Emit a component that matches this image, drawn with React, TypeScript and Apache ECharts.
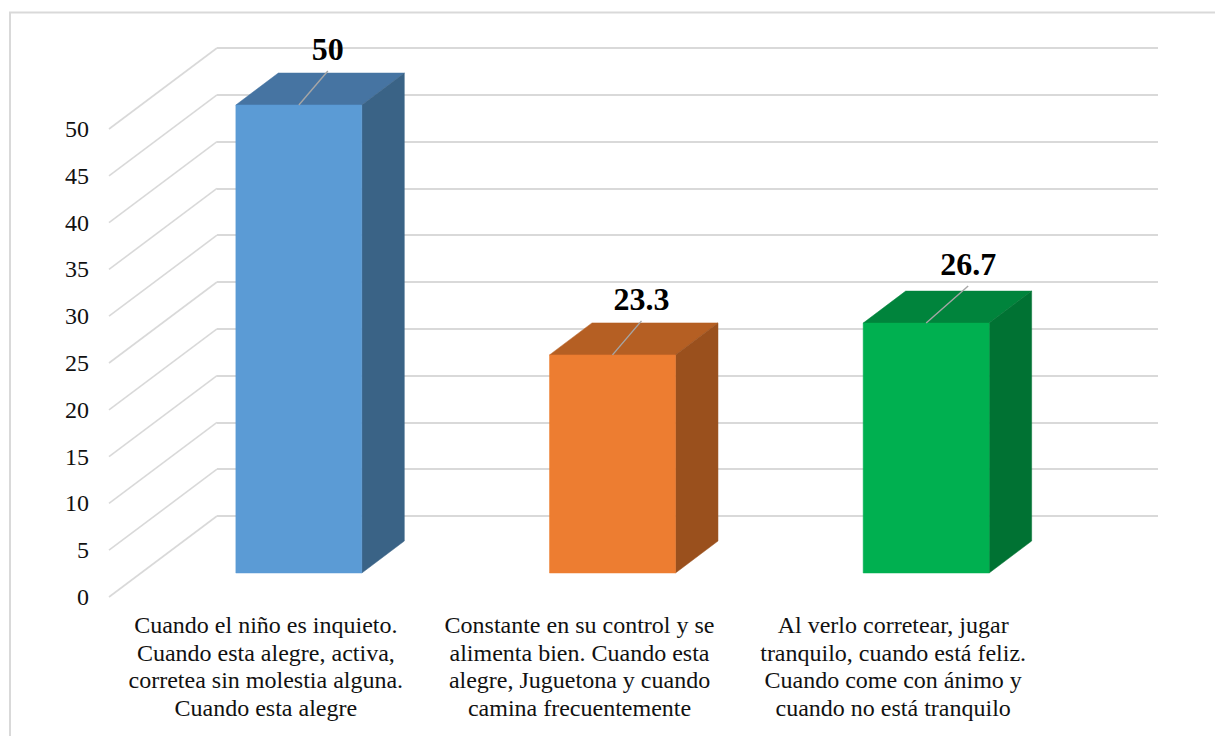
import React, { useEffect, useRef } from "react";
import * as echarts from "echarts";

const categories = [
  "Cuando el niño es inquieto.\nCuando esta alegre, activa,\ncorretea sin molestia alguna.\nCuando esta alegre",
  "Constante en su control y se\nalimenta bien. Cuando esta\nalegre, Juguetona y cuando\ncamina frecuentemente",
  "Al verlo corretear, jugar\ntranquilo, cuando está feliz.\nCuando come con ánimo y\ncuando no está tranquilo",
];
const values = [50, 23.3, 26.7];
const ticks = [0, 5, 10, 15, 20, 25, 30, 35, 40, 45, 50];

const frontColors = ["#5B9BD5", "#ED7D31", "#00B050"];
const topColors = ["#4674A2", "#B55F23", "#00843C"];
const sideColors = ["#3A6386", "#9A501D", "#007233"];

// Where each value label sits relative to the top-front edge centre of its bar.
const labelShift = [
  [29, -34],
  [29, -34],
  [42, -37],
];

const FONT = '"Liberation Serif", "Times New Roman", serif';
const GRID_LINE = "#D9D9D9";
// Full depth of the floor, from the front plane to the back wall.
const DEPTH_X = 108;
const DEPTH_Y = -81;
// Depth of one bar.
const BAR_DX = 42.5;
const BAR_DY = -32;

function renderDiagonal(params: any, api: any) {
  const v = api.value(0);
  const y = api.coord([0, v])[1];
  const x = params.coordSys.x;
  return {
    type: "line",
    shape: { x1: x, y1: y, x2: x + DEPTH_X, y2: y + DEPTH_Y },
    style: { stroke: GRID_LINE, lineWidth: 1.6 },
    silent: true,
  };
}

function renderBar(params: any, api: any) {
  const i = api.value(0);
  const v = api.value(1);
  const [cx, top] = api.coord([i, v]);
  const [, bottom] = api.coord([i, 0]);
  const width = api.size([1, 0])[0] * 0.4016;
  const l = cx - width / 2;
  const r = cx + width / 2;
  const [sx, sy] = labelShift[i];
  const poly = (points: number[][], fill: string) => ({
    type: "polygon",
    shape: { points },
    style: { fill, stroke: fill, lineWidth: 0.5 },
  });
  return {
    type: "group",
    children: [
      poly(
        [
          [l, top],
          [r, top],
          [r + BAR_DX, top + BAR_DY],
          [l + BAR_DX, top + BAR_DY],
        ],
        topColors[i],
      ),
      poly(
        [
          [r, top],
          [r + BAR_DX, top + BAR_DY],
          [r + BAR_DX, bottom + BAR_DY],
          [r, bottom],
        ],
        sideColors[i],
      ),
      poly(
        [
          [l, top],
          [r, top],
          [r, bottom],
          [l, bottom],
        ],
        frontColors[i],
      ),
      {
        type: "line",
        shape: { x1: cx, y1: top, x2: cx + sx, y2: top + sy },
        style: { stroke: "#A6A6A6", lineWidth: 1.4 },
      },
      {
        type: "text",
        x: cx + sx,
        y: top + sy - 22,
        style: {
          text: String(v),
          fill: "#000",
          font: `bold 32px ${FONT}`,
          textAlign: "center",
          textVerticalAlign: "middle",
        },
      },
    ],
  };
}

export default function App() {
  const ref = useRef<HTMLDivElement>(null);

  useEffect(() => {
    const chart = echarts.init(ref.current!, null, { renderer: "svg" });
    chart.setOption({
      animation: false,
      backgroundColor: "#fff",
      graphic: [
        {
          type: "rect",
          z: -10,
          shape: { x: 10, y: 12.5, width: 1230, height: 760 },
          style: { fill: "none", stroke: GRID_LINE, lineWidth: 2 },
        },
      ],
      grid: [
        // front plane: carries the tick and category labels
        { left: 109, width: 941, top: 129, height: 468 },
        // back wall: carries the horizontal gridlines
        { left: 217, width: 941, top: 48, height: 468 },
        // plane in which the bars stand
        { left: 142, width: 941, top: 105, height: 468 },
      ],
      xAxis: [
        {
          gridIndex: 0,
          type: "category",
          data: categories,
          axisLine: { show: false },
          axisTick: { show: false },
          axisLabel: {
            interval: 0,
            margin: 14,
            color: "#111",
            fontFamily: FONT,
            fontSize: 24,
            lineHeight: 27.7,
            align: "center",
            verticalAlign: "top",
          },
        },
        { gridIndex: 1, type: "category", data: categories, show: false },
        { gridIndex: 2, type: "category", data: categories, show: false },
      ],
      yAxis: [
        {
          gridIndex: 0,
          type: "value",
          min: 0,
          max: 50,
          interval: 5,
          axisLine: { show: false },
          axisTick: { show: false },
          splitLine: { show: false },
          axisLabel: { margin: 20, color: "#111", fontFamily: FONT, fontSize: 24 },
        },
        {
          gridIndex: 1,
          type: "value",
          min: 0,
          max: 50,
          interval: 5,
          axisLine: { show: false },
          axisTick: { show: false },
          axisLabel: { show: false },
          splitLine: { show: true, lineStyle: { color: GRID_LINE, width: 2 } },
        },
        { gridIndex: 2, type: "value", min: 0, max: 50, interval: 5, show: false, splitLine: { show: false } },
      ],
      series: [
        {
          type: "custom",
          xAxisIndex: 0,
          yAxisIndex: 0,
          data: ticks.map((t) => [t]),
          encode: { y: 0 },
          renderItem: renderDiagonal,
          silent: true,
          z: 1,
        },
        {
          type: "custom",
          xAxisIndex: 2,
          yAxisIndex: 2,
          data: values.map((v, i) => [i, v]),
          encode: { x: 0, y: 1 },
          renderItem: renderBar,
          silent: true,
          z: 5,
        },
      ],
    });
    return () => chart.dispose();
  }, []);

  return <div ref={ref} style={{ position: "absolute", left: 0, top: 0, width: 1215, height: 736 }} />;
}
